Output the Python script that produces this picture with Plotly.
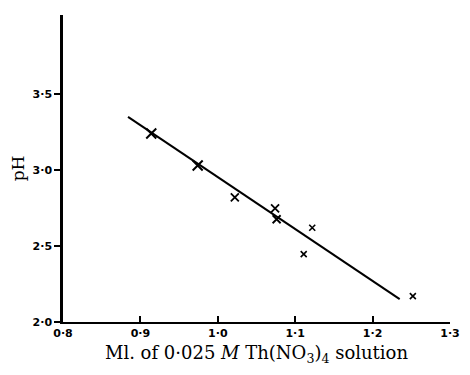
import plotly.graph_objects as go

# Data
big_x = [0.914, 0.974]
big_y = [3.24, 3.03]
mid_x = [1.022, 1.074, 1.076]
mid_y = [2.82, 2.748, 2.676]
small_x = [1.122, 1.111, 1.252]
small_y = [2.62, 2.447, 2.17]
line_x = [0.884, 1.235]
line_y = [3.35, 2.15]

x_ticks = [0.8, 0.9, 1.0, 1.1, 1.2, 1.3]
x_labels = ["0·8", "0·9", "1·0", "1·1", "1·2", "1·3"]
y_ticks = [2.0, 2.5, 3.0, 3.5]
y_labels = ["2·0", "2·5", "3·0", "3·5"]

fig = go.Figure()
fig.add_trace(go.Scatter(x=line_x, y=line_y, mode="lines",
                         line=dict(color="black", width=2), showlegend=False))
fig.add_trace(go.Scatter(x=big_x, y=big_y, mode="markers",
                         marker=dict(symbol="x-thin", size=10, line=dict(color="black", width=2)),
                         showlegend=False))
fig.add_trace(go.Scatter(x=mid_x, y=mid_y, mode="markers",
                         marker=dict(symbol="x-thin", size=8, line=dict(color="black", width=1.8)),
                         showlegend=False))
fig.add_trace(go.Scatter(x=small_x, y=small_y, mode="markers",
                         marker=dict(symbol="x-thin", size=6, line=dict(color="black", width=1.6)),
                         showlegend=False))

fig.update_layout(
    width=470, height=375,
    margin=dict(l=63, r=10, t=15, b=53),
    paper_bgcolor="white", plot_bgcolor="white",
    font=dict(family="DejaVu Serif", color="black"),
    xaxis=dict(range=[0.8, 1.3], showgrid=False, zeroline=False,
               showline=True, linecolor="black", linewidth=2,
               ticks="inside", ticklen=6, tickwidth=1.5, tickcolor="black",
               tickvals=x_ticks, ticktext=x_labels,
               tickfont=dict(family="DejaVu Sans", size=11, weight="bold"),
               title=dict(text="Ml. of 0·025 <i>M</i> Th(NO<sub>3</sub>)<sub>4</sub> solution",
                          font=dict(family="DejaVu Serif", size=18), standoff=7)),
    yaxis=dict(range=[2.0, 4.02], showgrid=False, zeroline=False,
               showline=True, linecolor="black", linewidth=2.5,
               ticks="outside", ticklen=6, tickwidth=1.5, tickcolor="black",
               tickvals=y_ticks, ticktext=y_labels,
               tickfont=dict(family="DejaVu Sans", size=11, weight="bold"),
               title=dict(text="pH", font=dict(family="DejaVu Serif", size=17), standoff=4)),
)

fig.write_html("out.html")
